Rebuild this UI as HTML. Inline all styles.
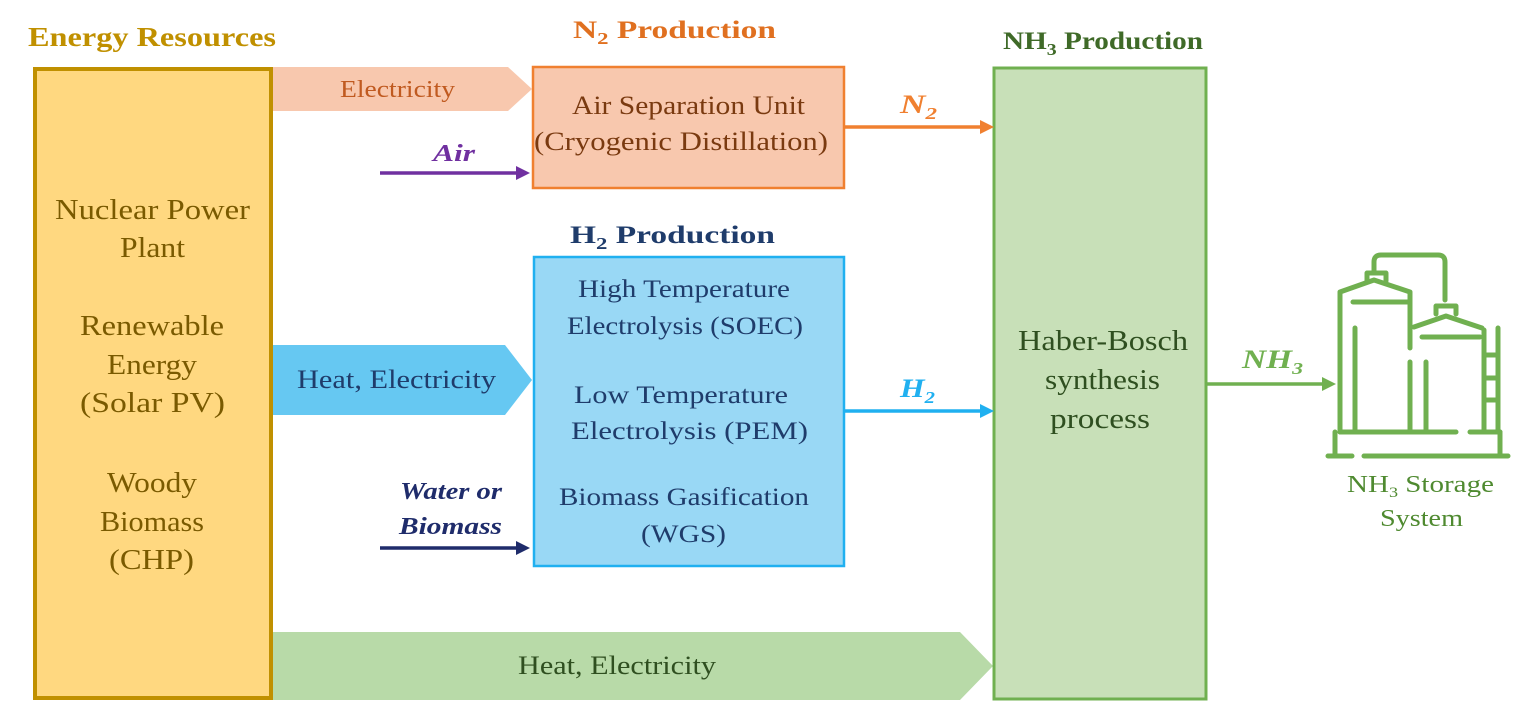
<!DOCTYPE html>
<html><head><style>body{margin:0;background:#fff}svg{display:block}text{font-family:"Liberation Serif",serif}</style></head><body>
<svg width="1533" height="725" viewBox="0 0 1533 725" xmlns="http://www.w3.org/2000/svg">
<text x="28" y="46" font-size="27" font-weight="bold" fill="#C09000" textLength="248" lengthAdjust="spacingAndGlyphs">Energy Resources</text>
<text x="573" y="38" font-size="25" font-weight="bold" fill="#E07020" textLength="203" lengthAdjust="spacingAndGlyphs">N<tspan font-size="17" dy="6">2</tspan><tspan dy="-6"> Production</tspan></text>
<text x="1003" y="49" font-size="25" font-weight="bold" fill="#3F6A28" textLength="200" lengthAdjust="spacingAndGlyphs">NH<tspan font-size="17" dy="6">3</tspan><tspan dy="-6"> Production</tspan></text>
<text x="570" y="243" font-size="25" font-weight="bold" fill="#1F3C6B" textLength="205" lengthAdjust="spacingAndGlyphs">H<tspan font-size="17" dy="6">2</tspan><tspan dy="-6"> Production</tspan></text>

<polygon points="273,67 508,67 532,89 508,111 273,111" fill="#F8C8AE"/>
<text x="340" y="97" font-size="24" fill="#C05A20" textLength="115" lengthAdjust="spacingAndGlyphs">Electricity</text>
<polygon points="273,345 505,345 532,380 505,415 273,415" fill="#66C8F2"/>
<text x="297" y="388" font-size="26" fill="#1F3C6B" textLength="199" lengthAdjust="spacingAndGlyphs">Heat, Electricity</text>
<polygon points="273,632 960,632 993,666 960,700 273,700" fill="#B8DAA8"/>
<text x="518" y="674" font-size="26" fill="#2F4F20" textLength="198" lengthAdjust="spacingAndGlyphs">Heat, Electricity</text>

<rect x="35" y="69" width="236" height="629" fill="#FFD880" stroke="#C09000" stroke-width="4"/>
<g font-size="28" fill="#7A5A00" lengthAdjust="spacingAndGlyphs">
<text x="55" y="219" textLength="195" lengthAdjust="spacingAndGlyphs">Nuclear Power</text>
<text x="120" y="257" textLength="65" lengthAdjust="spacingAndGlyphs">Plant</text>
<text x="80" y="335" textLength="144" lengthAdjust="spacingAndGlyphs">Renewable</text>
<text x="107" y="374" textLength="90" lengthAdjust="spacingAndGlyphs">Energy</text>
<text x="80" y="412" textLength="145" lengthAdjust="spacingAndGlyphs">(Solar PV)</text>
<text x="107" y="492" textLength="90" lengthAdjust="spacingAndGlyphs">Woody</text>
<text x="100" y="531" textLength="104" lengthAdjust="spacingAndGlyphs">Biomass</text>
<text x="109" y="569" textLength="85" lengthAdjust="spacingAndGlyphs">(CHP)</text>
</g>

<rect x="533" y="67" width="311" height="121" fill="#F8C8AE" stroke="#F08030" stroke-width="2.5"/>
<text x="572" y="114" font-size="26" fill="#7A3A10" textLength="233" lengthAdjust="spacingAndGlyphs">Air Separation Unit</text>
<text x="534" y="150" font-size="26" fill="#7A3A10" textLength="294" lengthAdjust="spacingAndGlyphs">(Cryogenic Distillation)</text>

<rect x="534" y="257" width="310" height="309" fill="#99D8F5" stroke="#20B0F0" stroke-width="2.5"/>
<g font-size="25" fill="#1F3C6B">
<text x="578" y="297" textLength="212" lengthAdjust="spacingAndGlyphs">High Temperature</text>
<text x="567" y="334" textLength="236" lengthAdjust="spacingAndGlyphs">Electrolysis (SOEC)</text>
<text x="574" y="403" textLength="214" lengthAdjust="spacingAndGlyphs">Low Temperature</text>
<text x="571" y="439" textLength="237" lengthAdjust="spacingAndGlyphs">Electrolysis (PEM)</text>
<text x="559" y="505" textLength="250" lengthAdjust="spacingAndGlyphs">Biomass Gasification</text>
<text x="641" y="542" textLength="85" lengthAdjust="spacingAndGlyphs">(WGS)</text>
</g>

<rect x="994" y="68" width="212" height="631" fill="#C8E0B8" stroke="#70B050" stroke-width="3"/>
<g font-size="28" fill="#2F4F20">
<text x="1018" y="350" textLength="170" lengthAdjust="spacingAndGlyphs">Haber-Bosch</text>
<text x="1045" y="389" textLength="115" lengthAdjust="spacingAndGlyphs">synthesis</text>
<text x="1050" y="428" textLength="100" lengthAdjust="spacingAndGlyphs">process</text>
</g>

<g stroke-width="3.5">
<line x1="845" y1="127" x2="982" y2="127" stroke="#F08030"/><polygon points="980,120 994,127 980,134" fill="#F08030"/>
<line x1="380" y1="173" x2="518" y2="173" stroke="#7030A0"/><polygon points="516,166 530,173 516,180" fill="#7030A0"/>
<line x1="845" y1="411" x2="982" y2="411" stroke="#20B0F0"/><polygon points="980,404 994,411 980,418" fill="#20B0F0"/>
<line x1="380" y1="548" x2="518" y2="548" stroke="#1F2C6B"/><polygon points="516,541 530,548 516,555" fill="#1F2C6B"/>
<line x1="1207" y1="384" x2="1324" y2="384" stroke="#70B050"/><polygon points="1322,377 1336,384 1322,391" fill="#70B050"/>
</g>
<g font-style="italic" font-weight="bold" font-size="26">
<text x="900" y="113" fill="#F08030" textLength="37" lengthAdjust="spacingAndGlyphs">N<tspan font-size="17" dy="6">2</tspan></text>
<text x="433" y="161" fill="#7030A0" font-size="24" textLength="42" lengthAdjust="spacingAndGlyphs">Air</text>
<text x="900" y="397" fill="#20B0F0" textLength="35" lengthAdjust="spacingAndGlyphs">H<tspan font-size="17" dy="6">2</tspan></text>
<text x="400" y="499" fill="#1F2C6B" font-size="24" textLength="102" lengthAdjust="spacingAndGlyphs">Water or</text>
<text x="399" y="534" fill="#1F2C6B" font-size="24" textLength="103" lengthAdjust="spacingAndGlyphs">Biomass</text>
<text x="1242" y="368" fill="#70B050" textLength="61" lengthAdjust="spacingAndGlyphs">NH<tspan font-size="17" dy="6">3</tspan></text>
</g>

<g fill="none" stroke="#70B050" stroke-width="5" stroke-linecap="round" stroke-linejoin="round">
<path d="M1340,432 V292 L1374,280 L1410,292 V348"/>
<path d="M1367,281 V273 H1386 V281"/>
<path d="M1374,272 V262 Q1374,255 1381,255 H1438 Q1445,255 1445,262 V300"/>
<path d="M1353,302 H1408"/>
<path d="M1355,328 V432"/>
<path d="M1414,327 L1446,316 L1482,328"/>
<path d="M1436,314 V306 H1456 V314"/>
<path d="M1422,337 H1480"/>
<path d="M1410,362 V432 M1426,362 V432"/>
<path d="M1484,330 V432 M1498,328 V432"/>
<path d="M1486,355 H1496 M1486,378 H1496 M1486,400 H1496"/>
<path d="M1340,432 H1456 M1470,432 H1500"/>
<path d="M1335,432 V456 M1500,432 V456"/>
<path d="M1328,456 H1352 M1364,456 H1508"/>
</g>
<text x="1347" y="492" font-size="24" fill="#4F8A30" textLength="147" lengthAdjust="spacingAndGlyphs">NH<tspan font-size="15" dy="5">3</tspan><tspan dy="-5"> Storage</tspan></text>
<text x="1380" y="526" font-size="24" fill="#4F8A30" textLength="83" lengthAdjust="spacingAndGlyphs">System</text>
</svg>
</body></html>
